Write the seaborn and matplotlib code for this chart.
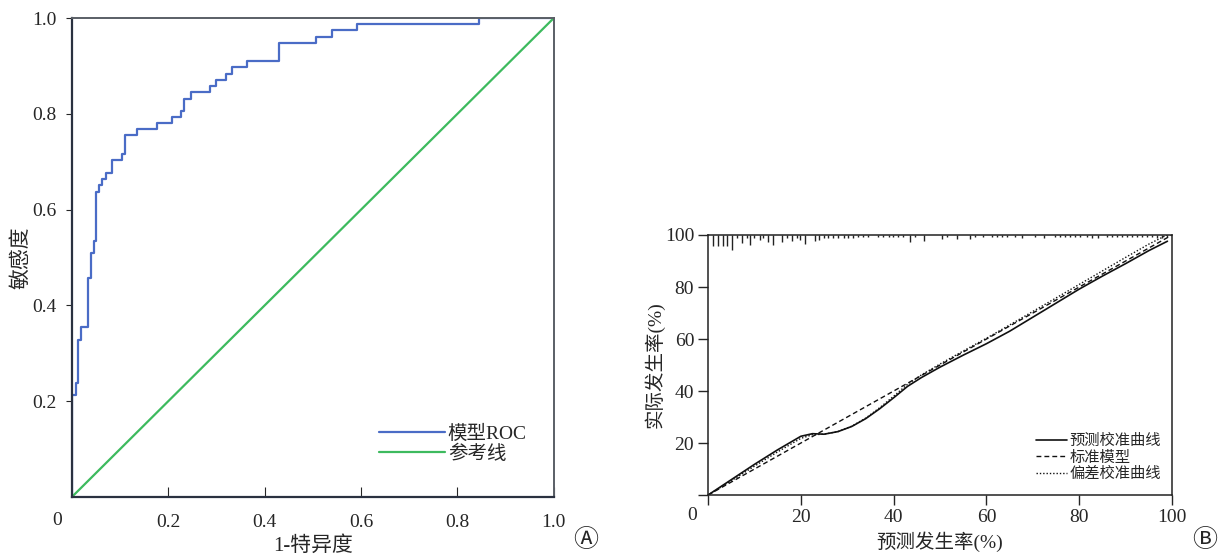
import matplotlib
matplotlib.use('Agg')
import matplotlib.pyplot as plt
import seaborn as sns

sns.set_style('ticks')
# serif for digits, CJK fallback for chinese text
FONTS = ['Liberation Serif', 'Noto Sans CJK SC', 'DejaVu Sans']
plt.rcParams['font.family'] = FONTS

# ---------------- data: panel A (ROC) ----------------
roc_fpr = [0, 0, 0.008, 0.013, 0.019, 0.034, 0.039, 0.046, 0.050, 0.057, 0.063,
           0.070, 0.084, 0.104, 0.110, 0.136, 0.176, 0.208, 0.226, 0.233, 0.247,
           0.286, 0.299, 0.319, 0.333, 0.364, 0.429, 0.506, 0.540, 0.592, 0.844, 1.0]
roc_tpr = [0, 0.213, 0.237, 0.328, 0.354, 0.458, 0.510, 0.535, 0.637, 0.651, 0.664,
           0.677, 0.703, 0.716, 0.755, 0.768, 0.781, 0.793, 0.806, 0.832, 0.845,
           0.858, 0.871, 0.884, 0.897, 0.910, 0.948, 0.961, 0.974, 0.987, 1.0, 1.0]
ref_x = [0, 1]
ref_y = [0, 1]
roc_xticks = [0.2, 0.4, 0.6, 0.8, 1.0]
roc_xticklabels = ['0.2', '0.4', '0.6', '0.8', '1.0']
roc_yticks = [0.2, 0.4, 0.6, 0.8, 1.0]
roc_yticklabels = ['0.2', '0.4', '0.6', '0.8', '1.0']

# ---------------- data: panel B (calibration) ----------------
pred_x = [0, 5, 10, 15, 20, 22.5, 25, 28, 31, 34, 37, 40, 43, 46, 50, 55, 60,
          65, 70, 75, 80, 85, 90, 95, 99]
pred_y = [0, 5.9, 11.8, 17.4, 22.6, 23.6, 23.4, 24.4, 26.4, 29.4, 33.2, 37.4,
          41.8, 45.2, 49.2, 53.8, 58.2, 63.0, 68.4, 73.8, 79.2, 84.2, 89.0, 94.0, 97.6]
ideal_x = [0, 100]
ideal_y = [0, 100]
bias_x = [0, 5, 10, 15, 20, 22.5, 25, 28, 31, 34, 37, 40, 43, 46, 50, 55, 60,
          65, 70, 75, 80, 85, 90, 95, 100]
bias_y = [0, 5.5, 11.1, 16.6, 21.8, 23.2, 23.4, 24.4, 26.5, 29.6, 33.6, 38.0,
          42.6, 46.2, 50.4, 55.4, 60.3, 65.4, 70.6, 75.8, 81.0, 86.2, 91.4, 96.5, 101.0]
cal_ticks = [0, 20, 40, 60, 80, 100]
cal_xticklabels = ['', '20', '40', '60', '80', '100']
cal_yticklabels = ['', '20', '40', '60', '80', '100']

# distribution of predicted rates shown as spikes under the top border
rug_pos = [1.15, 2.2, 3.2, 4.0, 5.1, 6.2, 7.3, 8.3, 9.05, 10, 11.1, 11.9, 13, 13.9,
           15.9, 17, 18, 19.1, 19.8, 20.9, 23.1, 24, 25, 25.9, 27, 28.1, 29.2, 30.2,
           31.3, 32.4, 33.5, 34.5, 36.7, 37.8, 38.9, 39.9, 41, 42.1, 43.5, 44.6, 46.6,
           50.5, 51.4, 53.6, 56.5, 57.5, 59.3, 61.1, 62.2, 63.3, 64.4, 66.2, 67.6,
           70.5, 72.3, 74.8, 75.9, 76.9, 78, 79.1, 80.2, 81.6, 82.7, 84.1, 85.9, 87,
           88.1, 89.2, 90.2, 91.3, 92.4, 93.5, 94.5, 95.6, 96.7, 97.8, 98.9]
rug_len = [4.2, 4.2, 4.2, 4.2, 5.8, 1.2, 3.1, 1.2, 3.8, 1.2, 1.9, 1.2, 2.7, 3.8,
           2.7, 1.2, 2.3, 1.2, 1.9, 3.5, 2.3, 1.9, 1.0, 1.0, 1.0, 1.0, 1.0, 1.0,
           1.0, 0.8, 0.8, 0.8, 0.8, 0.8, 0.8, 0.8, 0.8, 0.8, 2.7, 0.8, 2.3,
           1.5, 0.8, 1.5, 1.5, 0.8, 0.8, 0.8, 0.8, 0.8, 0.8, 0.8, 1.2,
           0.8, 1.2, 0.8, 0.8, 0.8, 0.8, 0.8, 0.8, 0.8, 1.2, 1.2, 0.8, 0.8,
           0.8, 0.8, 0.8, 0.8, 0.8, 0.8, 0.8, 0.8, 1.2, 1.2, 0.8]

fig = plt.figure(figsize=(12.18, 5.55), dpi=100)

# ---------------- panel A ----------------
ax1 = fig.add_axes([0.059, 0.1045, 0.3957, 0.863])
sns.lineplot(x=roc_fpr, y=roc_tpr, ax=ax1, sort=False, estimator=None,
             drawstyle='steps-post', color='#4a6cc6', lw=1.6, label='模型ROC')
sns.lineplot(x=ref_x, y=ref_y, ax=ax1, sort=False, estimator=None,
             color='#3dba5e', lw=1.6, label='参考线')
ax1.set_xlim(0, 1)
ax1.set_ylim(0, 1)
ax1.set_xticks(roc_xticks, roc_xticklabels)
ax1.set_yticks(roc_yticks, roc_yticklabels)
ax1.tick_params(axis='x', direction='in', length=7, pad=12, labelsize=14)
ax1.tick_params(axis='y', direction='out', length=4, pad=7, labelsize=14)
for s in ['left', 'bottom']:
    ax1.spines[s].set_color('#2a3140')
    ax1.spines[s].set_linewidth(1.6)
for s in ['top', 'right']:
    ax1.spines[s].set_color('#5a5f66')
    ax1.spines[s].set_linewidth(1.4)
ax1.set_xlabel('1-特异度', fontsize=15, labelpad=4)
ax1.set_ylabel('敏感度', fontsize=15, labelpad=1)
ax1.text(-0.03, -0.05, '0', transform=ax1.transAxes, fontsize=14,
         ha='center', va='center')
ax1.legend(loc='lower right', bbox_to_anchor=(0.96, 0.055), frameon=False,
           fontsize=14, handlelength=3.4, handletextpad=0.15, labelspacing=0.1,
           borderaxespad=0)
fig.text(0.481, 0.003, 'Ⓐ', fontsize=18, ha='center', va='bottom',
         family=['Noto Sans CJK SC', 'DejaVu Sans'])

# ---------------- panel B ----------------
ax2 = fig.add_axes([0.5813, 0.108, 0.381, 0.4686])
ax2.vlines(rug_pos, [100 - v for v in rug_len], 100, color='#222222', lw=1.0)
sns.lineplot(x=pred_x, y=pred_y, ax=ax2, sort=False, estimator=None,
             color='#111111', lw=1.2, label='预测校准曲线')
sns.lineplot(x=ideal_x, y=ideal_y, ax=ax2, sort=False, estimator=None,
             color='#111111', lw=1.0, linestyle=(0, (3.5, 2.2)),
             label='标准模型')
sns.lineplot(x=bias_x, y=bias_y, ax=ax2, sort=False, estimator=None,
             color='#111111', lw=1.0, linestyle=(0, (1, 1.4)), label='偏差校准曲线')
ax2.set_xlim(0, 100)
ax2.set_ylim(0, 100)
ax2.set_xticks(cal_ticks, cal_xticklabels)
ax2.set_yticks(cal_ticks, cal_yticklabels)
ax2.tick_params(axis='both', direction='out', length=7, width=1.0, labelsize=14, pad=3)
for s in ax2.spines.values():
    s.set_color('#222222')
    s.set_linewidth(1.1)
ax2.set_xlabel('预测发生率(%)', fontsize=14, labelpad=4)
ax2.set_ylabel('实际发生率(%)', fontsize=14, labelpad=0)
ax2.text(-0.035, -0.08, '0', transform=ax2.transAxes, fontsize=14,
         ha='center', va='center')
ax2.legend(loc='lower right', bbox_to_anchor=(0.99, 0.03), frameon=False,
           fontsize=11, handlelength=2.0, handletextpad=0.2, labelspacing=0.15,
           borderaxespad=0)
fig.text(0.989, 0.003, 'Ⓑ', fontsize=18, ha='center', va='bottom',
         family=['Noto Sans CJK SC', 'DejaVu Sans'])

fig.savefig('out.png', dpi=100)
